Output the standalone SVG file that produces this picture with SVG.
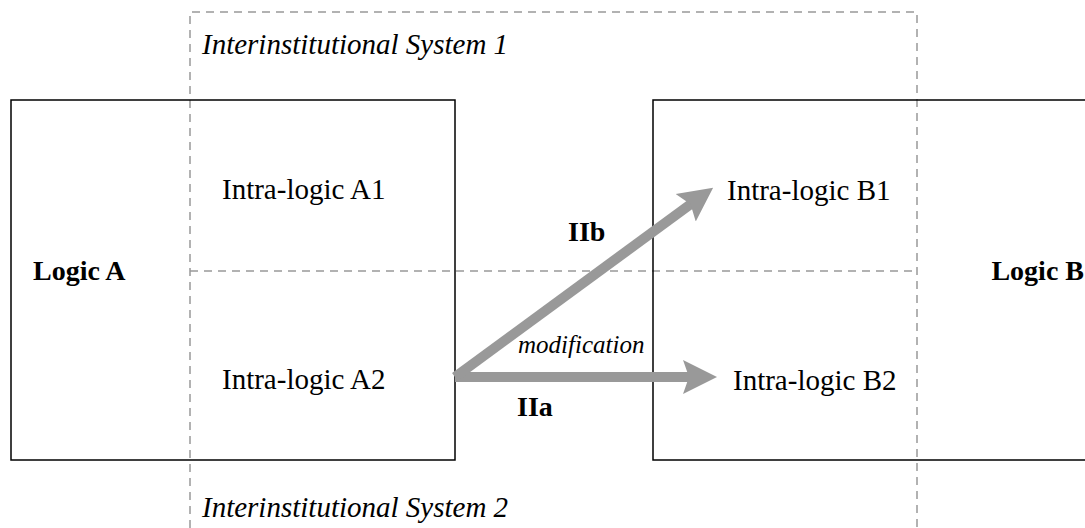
<svg xmlns="http://www.w3.org/2000/svg" width="1085" height="528" viewBox="0 0 1085 528">
<style>
.box{fill:none;stroke:#000;stroke-width:1.5}
.dash{fill:none;stroke:#999;stroke-width:1.5;stroke-dasharray:8,6}
.t{font-family:"Liberation Serif",serif;font-size:29px;fill:#000}
.b{font-weight:bold;font-size:28px}
.i{font-style:italic}
.arr{stroke:#999;stroke-width:10;fill:none}
</style>
<defs>
<marker id="ah" markerUnits="userSpaceOnUse" markerWidth="40" markerHeight="40" viewBox="0 0 40 40" refX="14" refY="20" orient="auto">
<path d="M0,3 L34,20 L0,37 L6,20 Z" fill="#999"/>
</marker>
</defs>
<rect width="1085" height="528" fill="#fff"/>
<g id="system1">
<path class="dash" d="M190,528 L190,12 L917,12 L917,528"/>
<line class="dash" x1="190" y1="271" x2="917" y2="271"/>
<text class="t i" x="202" y="54">Interinstitutional System 1</text>
<text class="t i" x="202" y="517">Interinstitutional System 2</text>
</g>
<g id="logicA">
<rect class="box" x="11" y="100" width="444" height="360"/>
<text class="t b" x="33" y="280">Logic A</text>
</g>
<g id="logicB">
<rect class="box" x="653" y="100" width="440" height="360"/>
<text class="t b" x="1084" y="280" text-anchor="end">Logic B</text>
</g>
<g id="A1"><text class="t" x="222" y="199">Intra-logic A1</text></g>
<g id="A2"><text class="t" x="222" y="389">Intra-logic A2</text></g>
<g id="B1"><text class="t" x="727" y="200">Intra-logic B1</text></g>
<g id="B2"><text class="t" x="733" y="390">Intra-logic B2</text></g>
<g id="connectors">
<line class="arr" x1="455" y1="377" x2="697" y2="377" marker-end="url(#ah)"/>
<line class="arr" x1="455" y1="377" x2="697" y2="199.5" marker-end="url(#ah)"/>
<text class="t b" x="568" y="241">IIb</text>
<text class="t b" x="517" y="416">IIa</text>
<text class="t i" x="518" y="353" style="font-size:25px">modification</text>
</g>
</svg>
